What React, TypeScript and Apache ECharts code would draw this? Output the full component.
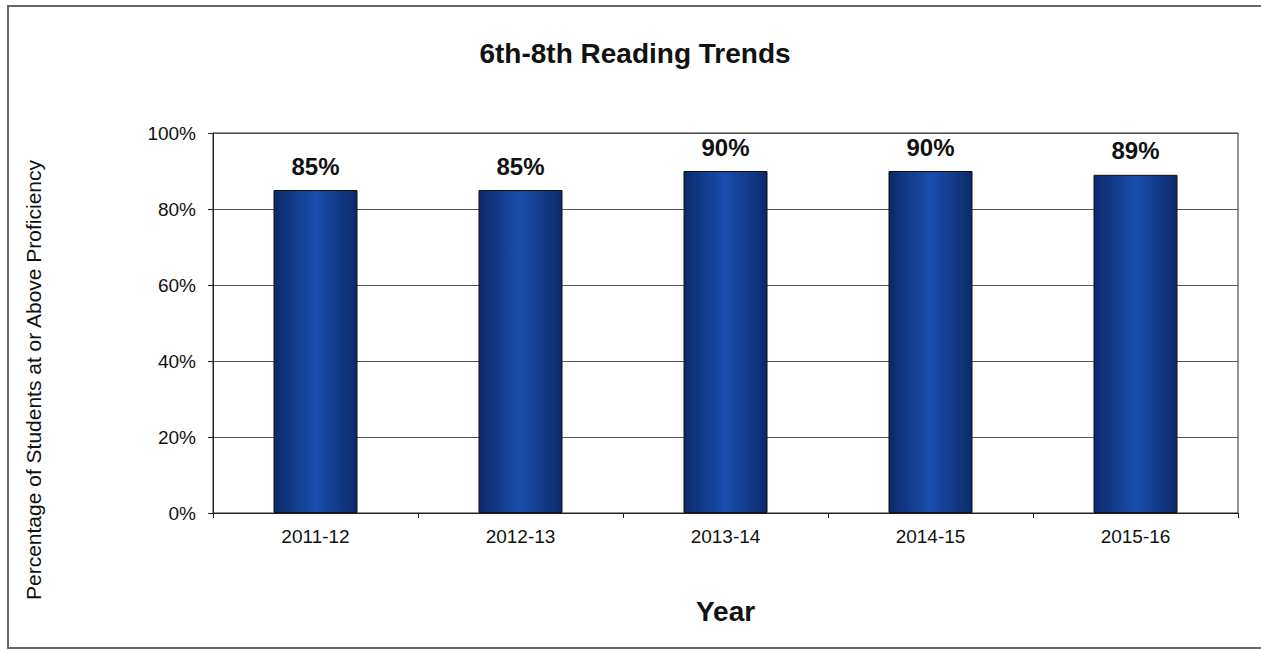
import React, { useEffect, useRef } from "react";
import * as echarts from "echarts";

const categories = ["2011-12", "2012-13", "2013-14", "2014-15", "2015-16"];
const values = [85, 85, 90, 90, 89];
const yTicks = [0, 20, 40, 60, 80, 100];

export default function App() {
  const ref = useRef<HTMLDivElement>(null);
  useEffect(() => {
    if (!ref.current) return;
    const chart = echarts.init(ref.current, null, { renderer: "svg" });
    const font = "'Liberation Sans', Arial, sans-serif";
    chart.setOption({
      animation: false,
      backgroundColor: "#ffffff",
      title: {
        text: "6th-8th Reading Trends",
        left: 630,
        textAlign: "center",
        top: 34,
        textStyle: { fontFamily: font, fontSize: 28, fontWeight: "bold", color: "#111" },
      },
      graphic: [
        {
          type: "rect",
          shape: { x: 8, y: 6, width: 1262, height: 642 },
          style: { fill: "none", stroke: "#666", lineWidth: 2 },
          silent: true,
        },
        {
          type: "text",
          x: 33,
          y: 380,
          rotation: Math.PI / 2,
          style: {
            text: "Percentage of Students at or Above Proficiency",
            align: "center",
            verticalAlign: "middle",
            fontFamily: font,
            fontSize: 21,
            fill: "#111",
          },
          silent: true,
        },
      ],
      grid: { left: 213, top: 133, width: 1025, height: 380, show: true, borderColor: "#222", borderWidth: 1 },
      xAxis: {
        type: "category",
        data: categories,
        name: "Year",
        nameLocation: "middle",
        nameGap: 84,
        nameTextStyle: { fontFamily: font, fontSize: 28, fontWeight: "bold", color: "#111" },
        axisLine: { lineStyle: { color: "#222", width: 1 } },
        axisTick: { show: true, length: 5, lineStyle: { color: "#222" } },
        axisLabel: { fontFamily: font, fontSize: 19, color: "#111", margin: 14 },
      },
      yAxis: {
        type: "value",
        min: 0,
        max: 100,
        interval: 20,
        axisLine: { show: true, lineStyle: { color: "#222", width: 1 } },
        axisTick: { show: true, length: 5, lineStyle: { color: "#222" } },
        axisLabel: {
          fontFamily: font,
          fontSize: 19,
          color: "#111",
          margin: 17,
          formatter: (v: number) => (yTicks.includes(v) ? v + "%" : ""),
        },
        splitLine: { show: true, lineStyle: { color: "#555", width: 1 } },
      },
      series: [
        {
          type: "bar",
          data: values,
          barWidth: 84,
          itemStyle: {
            color: new echarts.graphic.LinearGradient(0, 0, 1, 0, [
              { offset: 0, color: "#0c2a6a" },
              { offset: 0.5, color: "#1a4eae" },
              { offset: 1, color: "#0c2a6a" },
            ]),
            borderColor: "#111",
            borderWidth: 1,
          },
          label: {
            show: true,
            position: "top",
            distance: 12,
            formatter: "{c}%",
            fontFamily: font,
            fontSize: 24,
            fontWeight: "bold",
            color: "#111",
          },
        },
      ],
    });
    return () => chart.dispose();
  }, []);
  return (
    <div
      ref={ref}
      style={{ position: "fixed", left: 0, top: 0, width: 1261, height: 650 }}
    />
  );
}
